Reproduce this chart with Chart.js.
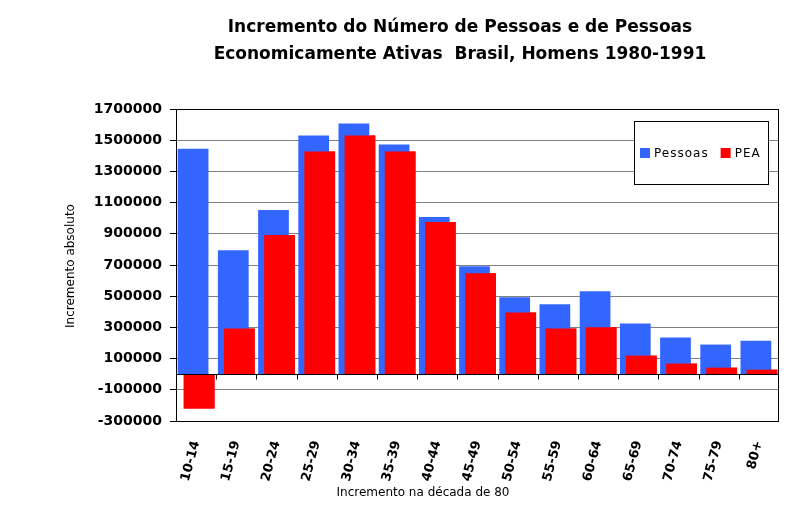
<!DOCTYPE html>
<html>
<head>
<meta charset="utf-8">
<script src="https://cdn.jsdelivr.net/npm/chart.js@4.4.0/dist/chart.umd.min.js"></script>
<style>
html, body { margin: 0; padding: 0; background: #fff; }
</style>
</head>
<body>
<canvas id="grafico" width="793" height="529"></canvas>
<script>
// dados
const faixas = ['10-14', '15-19', '20-24', '25-29', '30-34', '35-39', '40-44', '45-49',
                '50-54', '55-59', '60-64', '65-69', '70-74', '75-79', '80+'];
const pessoas = [1445000, 795000, 1052000, 1530000, 1607000, 1472000, 1008000, 692000,
                 493000, 448000, 532000, 325000, 235000, 190000, 215000];
const pea = [-220000, 293000, 892000, 1428000, 1530000, 1428000, 976000, 647000,
             396000, 293000, 301000, 119000, 68000, 42000, 29000];
const marcasY = [-300000, -100000, 100000, 300000, 500000, 700000, 900000,
                 1100000, 1300000, 1500000, 1700000];

const titulo = ['Incremento do Número de Pessoas e de Pessoas',
                'Economicamente Ativas  Brasil, Homens 1980-1991'];
const tituloY = 'Incremento absoluto';
const tituloX = 'Incremento na década de 80';

const azul = '#3366FF';
const vermelho = '#FF0000';
const fonte = '"DejaVu Sans", Verdana, sans-serif';

Chart.defaults.color = '#000';
Chart.defaults.font.family = fonte;

// moldura da area do grafico, linha do zero e PEA por cima
const moldura = {
  id: 'moldura',
  afterDatasetsDraw(chart) {
    const ctx = chart.ctx;
    const a = chart.chartArea;
    const xs = chart.scales.x;
    const ys = chart.scales.y;

    // PEA deve ficar na frente das barras azuis
    chart.getDatasetMeta(1).controller.draw();

    ctx.save();
    ctx.strokeStyle = '#000';
    ctx.lineWidth = 1;
    ctx.strokeRect(Math.round(a.left) + 0.5, Math.round(a.top) + 0.5,
                   Math.round(a.right - a.left) - 1, Math.round(a.bottom - a.top));

    const y0 = Math.round(ys.getPixelForValue(0)) + 0.5;
    ctx.beginPath();
    ctx.moveTo(a.left, y0);
    ctx.lineTo(a.right, y0);
    const meio = (xs.getPixelForTick(1) - xs.getPixelForTick(0)) / 2;
    for (let i = 1; i < faixas.length; i++) {
      const x = Math.round(xs.getPixelForTick(i) - meio) + 0.5;
      ctx.moveTo(x, y0);
      ctx.lineTo(x, y0 + 5);
    }
    ctx.stroke();
    ctx.restore();
  }
};

// titulo, titulos dos eixos e legenda
const textos = {
  id: 'textos',
  afterDraw(chart) {
    const ctx = chart.ctx;
    ctx.save();
    ctx.fillStyle = '#000';
    ctx.textAlign = 'center';
    ctx.textBaseline = 'alphabetic';
    ctx.font = 'bold 17px ' + fonte;
    ctx.fillText(titulo[0], 460, 32);
    ctx.fillText(titulo[1], 460, 59);

    ctx.font = '12px ' + fonte;
    ctx.textBaseline = 'middle';
    ctx.fillText(tituloX, 423, 493);

    ctx.save();
    ctx.translate(71, 266);
    ctx.rotate(-Math.PI / 2);
    ctx.fillText(tituloY, 0, 0);
    ctx.restore();

    // legenda
    ctx.fillStyle = '#fff';
    ctx.fillRect(634, 121, 135, 64);
    ctx.strokeStyle = '#000';
    ctx.lineWidth = 1;
    ctx.strokeRect(634.5, 121.5, 134, 63);

    ctx.textAlign = 'left';
    ctx.letterSpacing = '1px';
    const itens = chart.data.datasets;
    let x = 640;
    itens.forEach(d => {
      ctx.fillStyle = d.backgroundColor;
      ctx.fillRect(x, 148, 10, 10);
      ctx.fillStyle = '#000';
      ctx.fillText(d.label, x + 14, 153.5);
      x += 14 + ctx.measureText(d.label).width + 12;
    });
    ctx.restore();
  }
};

new Chart(document.getElementById('grafico'), {
  type: 'bar',
  data: {
    labels: faixas,
    datasets: [{
      label: 'Pessoas',
      data: pessoas,
      backgroundColor: azul,
      borderWidth: 0
    }, {
      label: 'PEA',
      data: pea,
      backgroundColor: vermelho,
      borderWidth: 0
    }]
  },
  options: {
    responsive: false,
    animation: false,
    categoryPercentage: 0.3,
    barPercentage: 5.1,
    layout: { padding: { top: 109, right: 14, left: 0, bottom: 0 } },
    plugins: {
      legend: { display: false },
      title: { display: false },
      tooltip: { enabled: false }
    },
    scales: {
      x: {
        grid: { display: false },
        border: { display: false },
        ticks: {
          autoSkip: false,
          maxRotation: 75,
          minRotation: 75,
          padding: 10,
          font: { size: 13, weight: 'bold' }
        },
        afterFit(s) { s.height = 108; }
      },
      y: {
        min: -300000,
        max: 1700000,
        grid: { color: '#808080', tickColor: '#000', tickLength: 6, lineWidth: 1 },
        border: { display: true, color: '#000' },
        ticks: {
          padding: 8,
          font: { size: 14, weight: 'bold' },
          callback: v => String(v)
        },
        afterBuildTicks(s) { s.ticks = marcasY.map(v => ({ value: v })); },
        afterFit(s) { s.width = 176; }
      }
    }
  },
  plugins: [moldura, textos]
});
</script>
</body>
</html>
